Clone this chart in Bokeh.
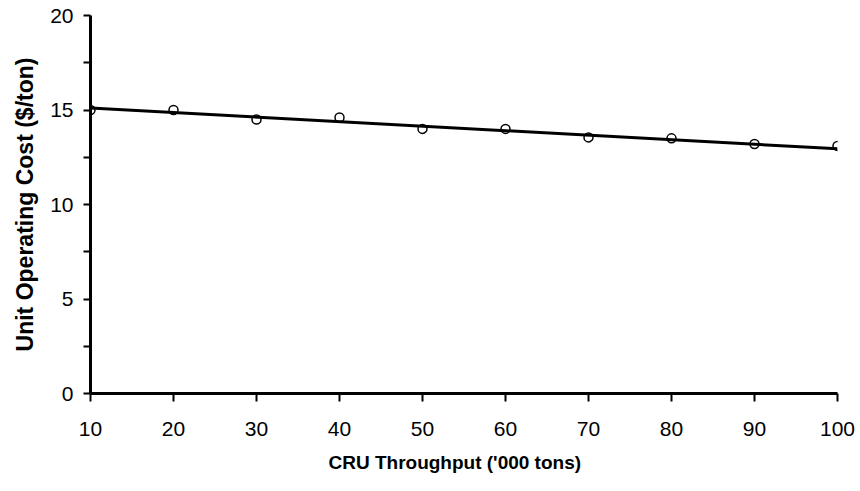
from bokeh.plotting import figure
from bokeh.models import Range1d, FixedTicker, Title, ColumnDataSource
from bokeh.embed import file_html
from bokeh.resources import INLINE

# data
throughput = [10, 20, 30, 40, 50, 60, 70, 80, 90, 100]
unit_cost = [15.0, 15.0, 14.5, 14.6, 14.0, 14.0, 13.55, 13.5, 13.2, 13.1]
trend_x = [10, 100]
trend_y = [15.1, 12.95]
x_ticks = [10, 20, 30, 40, 50, 60, 70, 80, 90, 100]
y_ticks = [0, 5, 10, 15, 20]
y_minor = [2.5, 7.5, 12.5, 17.5]
x_title = "CRU Throughput ('000 tons)"
y_title = "Unit Operating Cost ($/ton)"

TICK_FONT = "'Liberation Sans Narrow', 'Liberation Sans', sans-serif"
TITLE_FONT = "Liberation Sans"

p = figure(width=860, height=491, output_backend="svg", toolbar_location=None,
           x_range=Range1d(10, 100), y_range=Range1d(0, 20),
           min_border_left=90, min_border_right=23, min_border_top=15,
           min_border_bottom=98)
p.outline_line_color = None
p.xgrid.visible = False
p.ygrid.visible = False
p.background_fill_color = "white"
p.border_fill_color = "white"

for ax in (p.xaxis[0], p.yaxis[0]):
    ax.axis_line_width = 3
    ax.axis_line_color = "black"
    ax.major_tick_line_width = 2
    ax.minor_tick_line_width = 2
    ax.major_tick_line_color = "black"
    ax.minor_tick_line_color = "black"
    ax.major_tick_in = 0
    ax.minor_tick_in = 0
    ax.major_label_text_font = TICK_FONT
    ax.major_label_text_font_size = "21px"
    ax.major_label_text_color = "black"

p.xaxis[0].ticker = FixedTicker(ticks=x_ticks)
p.xaxis[0].major_tick_out = 8
p.xaxis[0].minor_tick_out = 0
p.xaxis[0].major_label_standoff = 20

p.yaxis[0].ticker = FixedTicker(ticks=y_ticks, minor_ticks=y_minor)
p.yaxis[0].major_tick_out = 7
p.yaxis[0].minor_tick_out = 7
p.yaxis[0].major_label_standoff = 10

src = ColumnDataSource(dict(x=throughput, y=unit_cost))
p.scatter("x", "y", source=src, marker="circle", size=9, fill_color="white",
          line_color="black", line_width=1.5)
p.line(trend_x, trend_y, line_color="black", line_width=3)

p.add_layout(Title(text=x_title, align="left", offset=238, standoff=22,
                   text_font=TITLE_FONT, text_font_style="bold",
                   text_font_size="19px", text_color="black"), "below")
p.add_layout(Title(text=y_title, align="center", offset=6, standoff=19,
                   text_font=TITLE_FONT, text_font_style="bold",
                   text_font_size="23px", text_color="black"), "left")

open("out.html", "w").write(file_html(p, INLINE))
